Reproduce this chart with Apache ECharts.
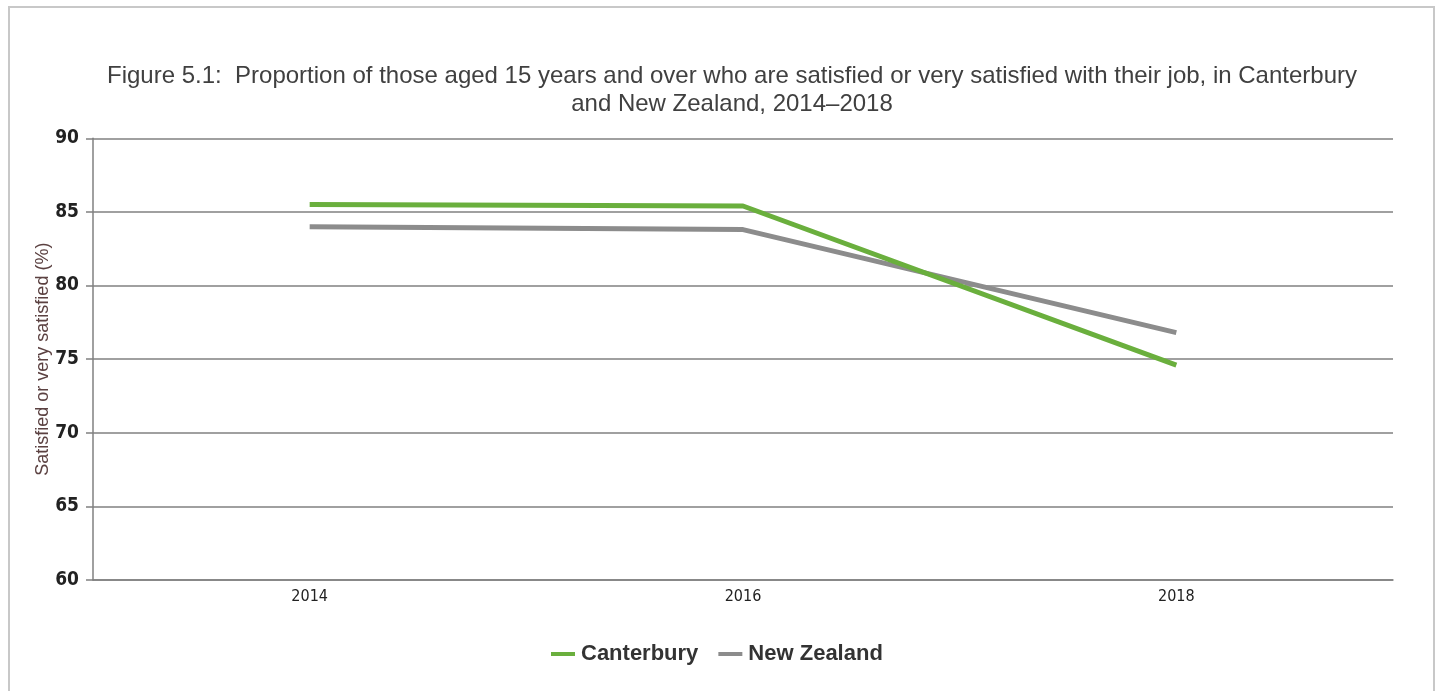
<!DOCTYPE html>
<html>
<head>
<meta charset="utf-8">
<script src="https://cdn.jsdelivr.net/npm/echarts@6/dist/echarts.min.js"></script>
<style>
html,body{margin:0;padding:0;background:#fff;}
#frame{position:absolute;left:8px;top:6px;width:1427px;height:700px;border:2px solid #c8c8c8;box-sizing:border-box;}
#chart{position:absolute;left:0;top:0;width:1444px;height:691px;}
</style>
</head>
<body>
<div id="frame"></div>
<div id="chart"></div>
<script>
const years = ['2014', '2016', '2018'];
const canterbury = [85.5, 85.4, 74.6];
const newZealand = [84.0, 83.8, 76.8];
const yTicks = [60, 65, 70, 75, 80, 85, 90];

const chart = echarts.init(document.getElementById('chart'));
chart.setOption({
  animation: false,
  title: {
    text: 'Figure 5.1:  Proportion of those aged 15 years and over who are satisfied or very satisfied with their job, in Canterbury\nand New Zealand, 2014\u20132018',
    left: 727, top: 57, textAlign: 'center',
    textStyle: {fontFamily: 'Liberation Sans, Arial', fontSize: 24, fontWeight: 'normal', color: '#404040', lineHeight: 28}
  },
  grid: {left: 93, right: 51, top: 138.3, bottom: 111, containLabel: false},
  legend: {
    bottom: 21, left: 546, itemWidth: 24, itemHeight: 4, itemGap: 20,
    icon: 'rect',
    textStyle: {fontFamily: 'Liberation Sans, Arial', fontSize: 22, fontWeight: 'bold', color: '#333', padding: [0, 0, 0, 1]},
    data: ['Canterbury', 'New Zealand']
  },
  xAxis: {
    type: 'category', data: years, boundaryGap: true,
    axisLine: {lineStyle: {color: '#808080', width: 1.5}},
    axisTick: {alignWithLabel: true, length: 6, lineStyle: {color: '#808080', width: 1.5}},
    axisLabel: {fontFamily: 'Liberation Sans Narrow, DejaVu Sans Condensed, Arial', fontSize: 16, color: '#222', margin: 9}
  },
  yAxis: {
    type: 'value', min: 60, max: 90, interval: 5,
    name: 'Satisfied or very satisfied (%)', nameLocation: 'middle', nameGap: 41, nameRotate: 90,
    nameMoveOverlap: false,
    nameTextStyle: {fontFamily: 'Liberation Sans, Arial', fontSize: 18, color: '#5b4141'},
    axisLine: {show: true, lineStyle: {color: '#808080', width: 1.5}},
    axisTick: {show: true, length: 7, lineStyle: {color: '#808080', width: 1.5}},
    splitLine: {lineStyle: {color: '#808080', width: 1.5}},
    axisLabel: {fontFamily: 'Liberation Sans Narrow, DejaVu Sans Condensed, Arial', fontSize: 19, fontWeight: 'bold', color: '#222', margin: 14,
      formatter: v => yTicks.includes(v) ? String(v) : ''}
  },
  series: [
    {name: 'Canterbury', type: 'line', data: canterbury, symbol: 'none', lineStyle: {color: '#6aaf3d', width: 5}, itemStyle: {color: '#6aaf3d'}, z: 3},
    {name: 'New Zealand', type: 'line', data: newZealand, symbol: 'none', lineStyle: {color: '#8c8c8c', width: 5}, itemStyle: {color: '#8c8c8c'}, z: 2}
  ]
});
</script>
</body>
</html>
